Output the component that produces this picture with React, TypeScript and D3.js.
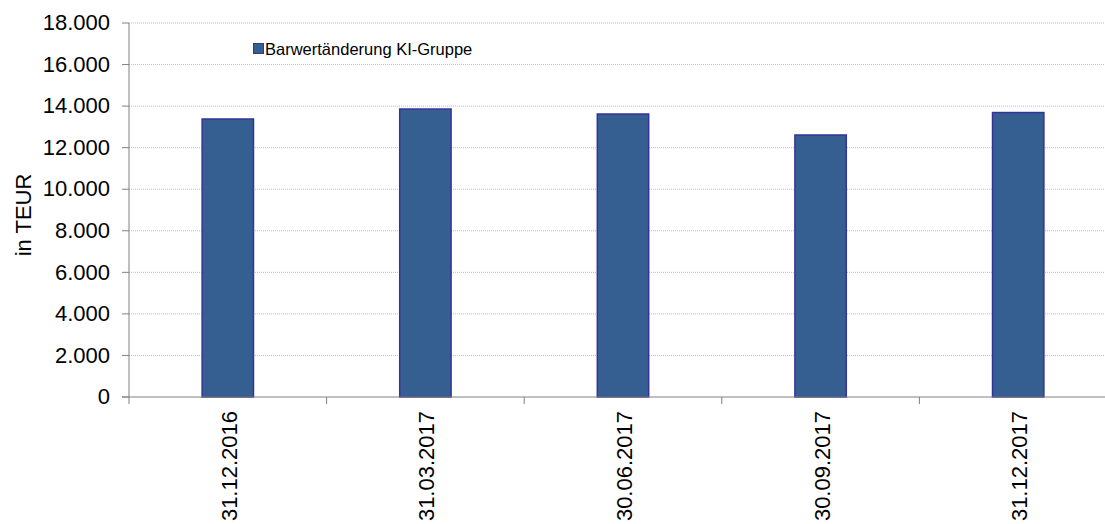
import React from "react";
import * as d3 from "d3";

const categories = ["31.12.2016", "31.03.2017", "30.06.2017", "30.09.2017", "31.12.2017"];
const values = [13380, 13860, 13620, 12610, 13690];
const yTicks = [0, 2000, 4000, 6000, 8000, 10000, 12000, 14000, 16000, 18000];
const seriesName = "Barwertänderung KI-Gruppe";

const fmt = (v: number) => (v === 0 ? "0" : d3.format(",")(v).replace(/,/g, "."));

export default function App() {
  const W = 1105, H = 524;
  const left = 129, right = 1117, top = 23, bottom = 397;
  const x = d3.scaleBand<string>().domain(categories).range([left, right]).paddingInner(0).paddingOuter(0);
  const y = d3.scaleLinear().domain([0, 18000]).range([bottom, top]);
  const bw = x.bandwidth() * 0.26;
  const font = "'Liberation Sans', Arial, sans-serif";
  return (
    <svg width={W} height={H} style={{ position: "absolute", left: 0, top: 0, background: "#fff" }} fontFamily={font}>
      {yTicks.filter((t) => t > 0).map((t) => (
        <line key={t} x1={left} x2={right} y1={y(t)} y2={y(t)} stroke="#bdbdbd" strokeWidth={1} strokeDasharray="1 1" />
      ))}
      {categories.map((c, i) => (
        <rect key={c} x={x(c)! + x.bandwidth() / 2 - bw / 2} y={y(values[i])} width={bw} height={bottom - y(values[i])}
          fill="#365f91" stroke="#333399" strokeWidth={1.5} />
      ))}
      <line x1={left} x2={left} y1={top} y2={bottom} stroke="#808080" strokeWidth={1} />
      <line x1={left - 7} x2={right} y1={bottom} y2={bottom} stroke="#808080" strokeWidth={1} />
      {yTicks.map((t) => (
        <g key={t}>
          <line x1={left - 7} x2={left} y1={y(t)} y2={y(t)} stroke="#808080" />
          <text x={110} y={y(t)} dy="0.33em" textAnchor="end" fontSize={22} fill="#000">{fmt(t)}</text>
        </g>
      ))}
      {categories.map((c) => (
        <line key={c} x1={x(c)!} x2={x(c)!} y1={bottom} y2={bottom + 7} stroke="#808080" />
      ))}
      {categories.map((c) => (
        <text key={c} transform={`translate(${x(c)! + x.bandwidth() / 2 + 9},${411}) rotate(-90)`} textAnchor="end" fontSize={22} fill="#000">{c}</text>
      ))}
      <text transform={`translate(31,215) rotate(-90)`} textAnchor="middle" fontSize={22} fill="#000">in TEUR</text>
      <rect x={253.5} y={43.5} width={10} height={10} fill="#365f91" stroke="#333399" strokeWidth={1} />
      <text x={265} y={54.5} fontSize={16.5} fill="#000">{seriesName}</text>
    </svg>
  );
}
